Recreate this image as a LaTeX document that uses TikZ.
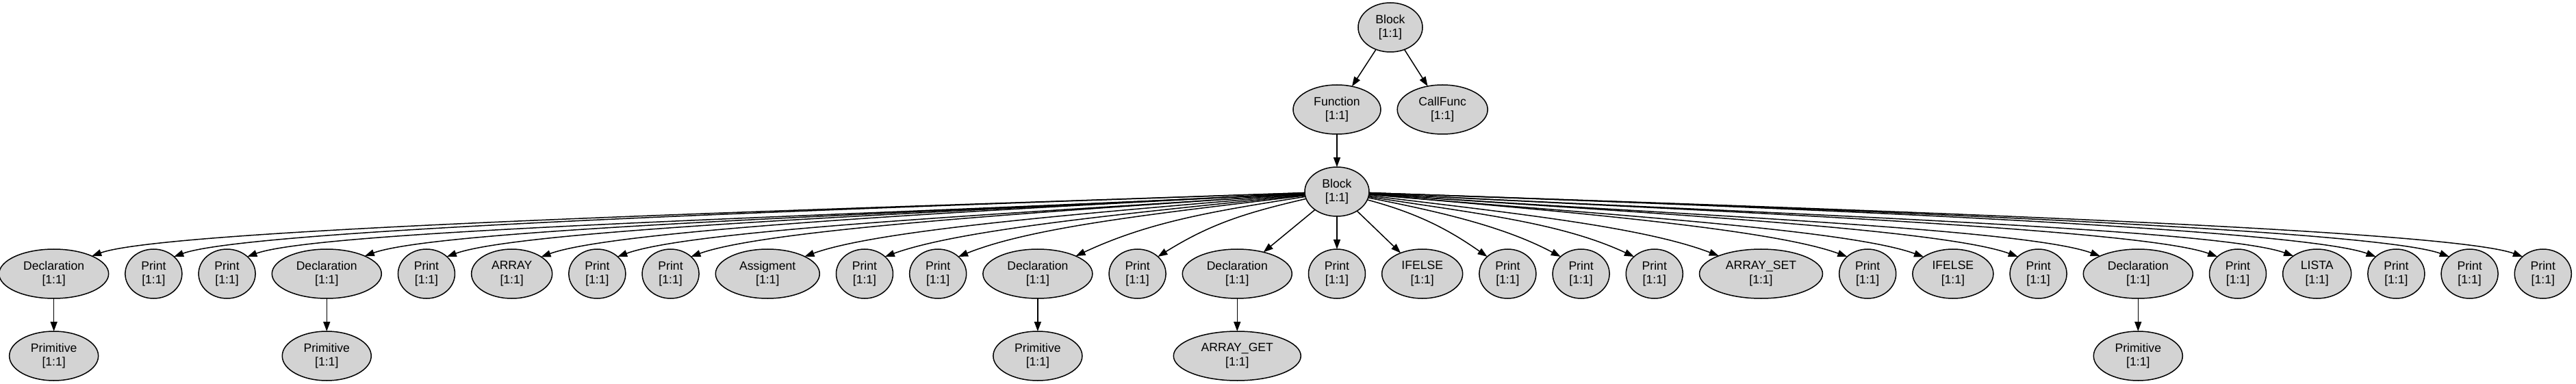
\documentclass[tikz,border=0pt]{standalone}
\usepackage{fontspec}
\setmainfont{Liberation Sans}
\usetikzlibrary{positioning,shapes.geometric,arrows.meta}
\definecolor{nodegray}{HTML}{D3D3D3}

\begin{document}
\begin{tikzpicture}[->,
					>={Triangle[length=7pt,width=5pt]},
					node distance=24pt and 12.1pt,
					line width=0.75pt,
					ast node/.style={ellipse,draw,fill=nodegray,minimum height=36pt,
						inner sep=0pt,outer sep=0pt,align=center,
						font=\fontsize{8.8pt}{10.4pt}\selectfont},
					print node/.style={ast node,minimum width=41.5pt},
					decl node/.style={ast node,minimum width=80pt},
					prim node/.style={ast node,minimum width=65pt}]

  \node[ast node,minimum width=47pt] (root) {Block\\{}[1:1]};
  \useasboundingbox ([shift={(-1015.5pt,20pt)}]root.center)
    rectangle ([shift={(866pt,-260.5pt)}]root.center);

  \node[ast node,minimum width=64pt] (func) [below=of root,xshift=-39pt] {Function\\{}[1:1]};
  \node[ast node,minimum width=66pt] (call) [right=of func] {CallFunc\\{}[1:1]};
  \node[ast node,minimum width=47pt] (body) [below=of func] {Block\\{}[1:1]};

  % children of the inner block, built out from the one under it
  \node[print node] (p9) [below=of body] {Print\\{}[1:1]};
  \node[decl node] (d4) [left=of p9] {Declaration\\{}[1:1]};
  \node[print node] (p8) [left=of d4] {Print\\{}[1:1]};
  \node[decl node] (d3) [left=of p8] {Declaration\\{}[1:1]};
  \node[print node] (p7) [left=of d3] {Print\\{}[1:1]};
  \node[print node] (p6) [left=of p7] {Print\\{}[1:1]};
  \node[ast node,minimum width=76pt] (asg) [left=of p6] {Assigment\\{}[1:1]};
  \node[print node] (p5) [left=of asg] {Print\\{}[1:1]};
  \node[print node] (p4) [left=of p5] {Print\\{}[1:1]};
  \node[ast node,minimum width=59pt] (arr) [left=of p4] {ARRAY\\{}[1:1]};
  \node[print node] (p3) [left=of arr] {Print\\{}[1:1]};
  \node[decl node] (d2) [left=of p3] {Declaration\\{}[1:1]};
  \node[print node] (p2) [left=of d2] {Print\\{}[1:1]};
  \node[print node] (p1) [left=of p2] {Print\\{}[1:1]};
  \node[decl node] (d1) [left=of p1] {Declaration\\{}[1:1]};

  \node[ast node,minimum width=59pt] (if1) [right=of p9] {IFELSE\\{}[1:1]};
  \node[print node] (p10) [right=of if1] {Print\\{}[1:1]};
  \node[print node] (p11) [right=of p10] {Print\\{}[1:1]};
  \node[print node] (p12) [right=of p11] {Print\\{}[1:1]};
  \node[ast node,minimum width=90pt] (aset) [right=of p12] {ARRAY\_SET\\{}[1:1]};
  \node[print node] (p13) [right=of aset] {Print\\{}[1:1]};
  \node[ast node,minimum width=59pt] (if2) [right=of p13] {IFELSE\\{}[1:1]};
  \node[print node] (p14) [right=of if2] {Print\\{}[1:1]};
  \node[decl node] (d5) [right=of p14] {Declaration\\{}[1:1]};
  \node[print node] (p15) [right=of d5] {Print\\{}[1:1]};
  \node[ast node,minimum width=50pt] (lista) [right=of p15] {LISTA\\{}[1:1]};
  \node[print node] (p16) [right=of lista] {Print\\{}[1:1]};
  \node[print node] (p17) [right=of p16] {Print\\{}[1:1]};
  \node[print node] (p18) [right=of p17] {Print\\{}[1:1]};

  % bottom row
  \node[prim node] (pr1) [below=of d1] {Primitive\\{}[1:1]};
  \node[prim node] (pr2) [below=of d2] {Primitive\\{}[1:1]};
  \node[prim node] (pr3) [below=of d3] {Primitive\\{}[1:1]};
  \node[ast node,minimum width=93pt] (aget) [below=of d4] {ARRAY\_GET\\{}[1:1]};
  \node[prim node] (pr5) [below=of d5] {Primitive\\{}[1:1]};

  \path
    (root) edge (func)
           edge (call)
    (func) edge (body)
    (body) edge (d4)
           edge (p9)
           edge (if1)
    (d1) edge (pr1)
    (d2) edge (pr2)
    (d3) edge (pr3)
    (d4) edge (aget)
    (d5) edge (pr5);

  % fanned edges: child/anchor/out/in/in distance
  \foreach \kid/\tip/\o/\i/\d in {
      d1/25/182/20/60, p1/40/182/20/60, p2/40/183/20/60, d2/25/183/20/60,
      p3/40/183/20/60, arr/30/183/20/60, p4/40/184/20/60, p5/40/184/20/60,
      asg/25/185/20/60, p6/40/186/20/60, p7/40/187/22/60, d3/25/189/25/60,
      p8/40/193/32/45,
      p10/140/345/145/35, p11/140/349/152/45, p12/140/351/155/60,
      aset/157/353/159/60, p13/140/355/160/60, if2/150/355/160/60,
      p14/140/356/160/60, d5/155/356/160/60, p15/140/357/160/60,
      lista/143/357/160/60, p16/140/358/160/60, p17/140/358/160/60,
      p18/140/358/160/60}
    \draw (body) to[out=\o,in=\i,in distance=\d pt] (\kid.\tip);
\end{tikzpicture}
\end{document}
